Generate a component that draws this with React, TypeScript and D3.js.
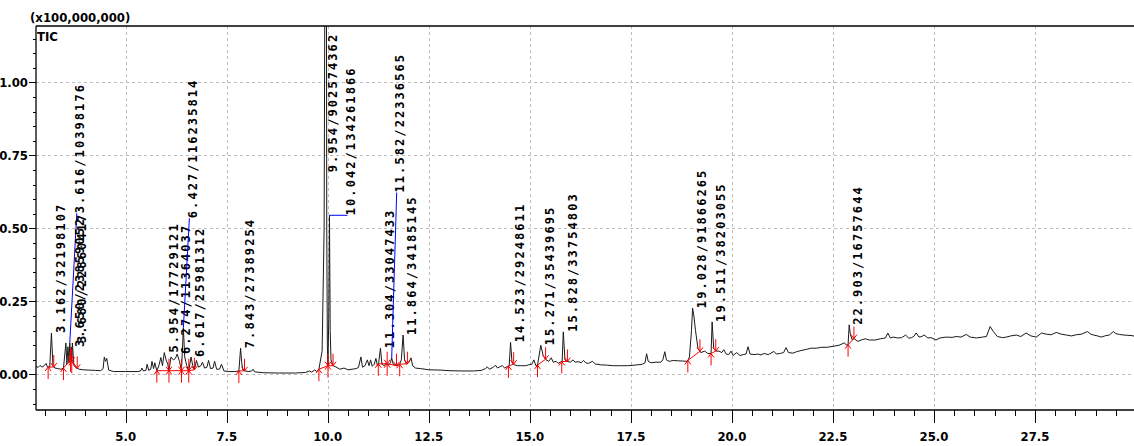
import React, { useEffect } from 'react';
import * as d3 from 'd3';

// Total ion chromatogram: [retention time (min), intensity (x100,000,000)]
const tic: [number, number][] = [
  [2.78, 0.028], [2.83, 0.024], [2.88, 0.031], [2.93, 0.025], [2.98, 0.03], [3.03, 0.038], [3.06, 0.026],
  [3.12, 0.025], [3.162, 0.142], [3.2, 0.028], [3.25, 0.022], [3.32, 0.02], [3.4, 0.018], [3.46, 0.022],
  [3.52, 0.108], [3.545, 0.035], [3.57, 0.095], [3.595, 0.04], [3.616, 0.108], [3.635, 0.05], [3.65, 0.094],
  [3.665, 0.045], [3.68, 0.108], [3.72, 0.03], [3.78, 0.022], [3.85, 0.018], [3.95, 0.016], [4.1, 0.015],
  [4.25, 0.014], [4.38, 0.013], [4.44, 0.02], [4.47, 0.06], [4.5, 0.045], [4.53, 0.055], [4.58, 0.015],
  [4.7, 0.01], [5.0, 0.01], [5.3, 0.01], [5.37, 0.012], [5.4, 0.022], [5.44, 0.012], [5.5, 0.014],
  [5.53, 0.035], [5.57, 0.014], [5.62, 0.018], [5.65, 0.045], [5.69, 0.02], [5.72, 0.04], [5.77, 0.013],
  [5.82, 0.03], [5.87, 0.058], [5.91, 0.03], [5.954, 0.075], [6.0, 0.05], [6.04, 0.035], [6.07, 0.013],
  [6.12, 0.06], [6.18, 0.05], [6.23, 0.055], [6.274, 0.07], [6.33, 0.045], [6.38, 0.013], [6.427, 0.16],
  [6.46, 0.06], [6.51, 0.03], [6.56, 0.013], [6.617, 0.06], [6.66, 0.03], [6.7, 0.016], [6.75, 0.048],
  [6.8, 0.025], [6.86, 0.03], [6.9, 0.042], [6.95, 0.022], [7.01, 0.025], [7.05, 0.048], [7.1, 0.02],
  [7.16, 0.022], [7.2, 0.045], [7.25, 0.018], [7.32, 0.018], [7.37, 0.035], [7.43, 0.012], [7.55, 0.01],
  [7.7, 0.01], [7.8, 0.012], [7.843, 0.09], [7.87, 0.04], [7.9, 0.015], [7.95, 0.012], [8.05, 0.01],
  [8.12, 0.012], [8.15, 0.018], [8.19, 0.009], [8.4, 0.006], [8.8, 0.005], [9.2, 0.005], [9.45, 0.007],
  [9.55, 0.012], [9.6, 0.008], [9.68, 0.016], [9.72, 0.01], [9.78, 0.018], [9.86, 0.08], [9.91, 0.5],
  [9.954, 2.6], [9.975, 0.5], [9.99, 0.1], [10.005, 0.03], [10.025, 0.2], [10.042, 0.545], [10.06, 0.15],
  [10.08, 0.05], [10.13, 0.03], [10.2, 0.026], [10.3, 0.018], [10.4, 0.022], [10.5, 0.016], [10.6, 0.018],
  [10.7, 0.02], [10.76, 0.024], [10.82, 0.06], [10.86, 0.025], [10.92, 0.03], [10.98, 0.05], [11.02, 0.03],
  [11.06, 0.05], [11.1, 0.028], [11.15, 0.035], [11.19, 0.055], [11.23, 0.03], [11.26, 0.04], [11.304, 0.09],
  [11.34, 0.035], [11.4, 0.03], [11.45, 0.04], [11.5, 0.032], [11.55, 0.04], [11.582, 0.057], [11.62, 0.035],
  [11.7, 0.03], [11.78, 0.035], [11.82, 0.05], [11.864, 0.135], [11.9, 0.05], [11.95, 0.035], [12.0, 0.04],
  [12.06, 0.057], [12.1, 0.03], [12.17, 0.022], [12.3, 0.02], [12.5, 0.016], [12.8, 0.015], [13.0, 0.013],
  [13.3, 0.012], [13.6, 0.012], [13.8, 0.014], [13.9, 0.02], [13.95, 0.026], [14.0, 0.018], [14.1, 0.025],
  [14.15, 0.032], [14.2, 0.022], [14.28, 0.028], [14.32, 0.03], [14.38, 0.022], [14.45, 0.028], [14.49, 0.03],
  [14.523, 0.11], [14.56, 0.04], [14.62, 0.033], [14.7, 0.03], [14.8, 0.03], [14.9, 0.03], [14.97, 0.033],
  [15.05, 0.035], [15.1, 0.05], [15.15, 0.03], [15.19, 0.032], [15.271, 0.1], [15.33, 0.065], [15.4, 0.05],
  [15.47, 0.045], [15.53, 0.057], [15.58, 0.042], [15.65, 0.045], [15.7, 0.038], [15.76, 0.043], [15.8, 0.045],
  [15.828, 0.146], [15.87, 0.05], [15.92, 0.045], [16.0, 0.042], [16.07, 0.05], [16.12, 0.042], [16.2, 0.044],
  [16.27, 0.04], [16.33, 0.048], [16.38, 0.04], [16.45, 0.038], [16.55, 0.045], [16.62, 0.036], [16.75, 0.033],
  [16.9, 0.032], [17.07, 0.03], [17.25, 0.03], [17.42, 0.03], [17.6, 0.032], [17.78, 0.035], [17.85, 0.04],
  [17.89, 0.071], [17.93, 0.045], [18.0, 0.04], [18.1, 0.042], [18.24, 0.042], [18.29, 0.05], [18.34, 0.078],
  [18.38, 0.05], [18.45, 0.045], [18.55, 0.048], [18.65, 0.047], [18.78, 0.046], [18.9, 0.045], [18.95, 0.06],
  [19.0, 0.15], [19.028, 0.227], [19.06, 0.2], [19.1, 0.15], [19.16, 0.09], [19.23, 0.075], [19.33, 0.08],
  [19.4, 0.072], [19.485, 0.072], [19.511, 0.18], [19.55, 0.09], [19.6, 0.08], [19.68, 0.08], [19.75, 0.075],
  [19.8, 0.085], [19.86, 0.07], [19.92, 0.068], [19.98, 0.08], [20.03, 0.065], [20.12, 0.075], [20.2, 0.065],
  [20.28, 0.068], [20.35, 0.07], [20.4, 0.095], [20.45, 0.07], [20.55, 0.068], [20.65, 0.07], [20.72, 0.067],
  [20.8, 0.072], [20.9, 0.068], [21.04, 0.079], [21.1, 0.07], [21.2, 0.072], [21.28, 0.075], [21.34, 0.092],
  [21.4, 0.075], [21.51, 0.073], [21.6, 0.078], [21.71, 0.082], [21.85, 0.086], [21.96, 0.09], [22.1, 0.09],
  [22.2, 0.093], [22.35, 0.093], [22.53, 0.097], [22.65, 0.1], [22.78, 0.108], [22.85, 0.1], [22.875, 0.102],
  [22.903, 0.17], [22.93, 0.14], [22.97, 0.12], [23.02, 0.123], [23.12, 0.113], [23.2, 0.118], [23.3, 0.122],
  [23.4, 0.118], [23.55, 0.118], [23.67, 0.122], [23.8, 0.125], [23.86, 0.142], [23.92, 0.125], [23.99, 0.128],
  [24.1, 0.125], [24.2, 0.126], [24.3, 0.135], [24.38, 0.124], [24.44, 0.126], [24.5, 0.13], [24.56, 0.142],
  [24.63, 0.128], [24.7, 0.13], [24.76, 0.135], [24.85, 0.125], [24.93, 0.126], [25.05, 0.118], [25.15, 0.125],
  [25.3, 0.128], [25.45, 0.127], [25.55, 0.13], [25.67, 0.128], [25.8, 0.137], [25.9, 0.128], [26.05, 0.125],
  [26.2, 0.128], [26.3, 0.13], [26.39, 0.164], [26.47, 0.147], [26.57, 0.13], [26.7, 0.126], [26.79, 0.128],
  [26.9, 0.132], [27.04, 0.135], [27.15, 0.13], [27.28, 0.142], [27.4, 0.132], [27.53, 0.128], [27.6, 0.135],
  [27.66, 0.142], [27.78, 0.138], [27.9, 0.136], [28.03, 0.144], [28.15, 0.138], [28.28, 0.135], [28.4, 0.132],
  [28.52, 0.136], [28.65, 0.138], [28.8, 0.147], [28.88, 0.138], [28.95, 0.135], [29.05, 0.132], [29.14, 0.128],
  [29.25, 0.133], [29.34, 0.135], [29.44, 0.147], [29.5, 0.14], [29.59, 0.137], [29.7, 0.135], [29.8, 0.134],
  [29.9, 0.133], [30.0, 0.13],
];

// Integrated peaks: retention time, area, integration start and end (min)
const peakTimes = [3.162, 3.616, 3.65, 3.68, 5.954, 6.274, 6.427, 6.617, 7.843, 9.954, 10.042, 11.304, 11.582, 11.864, 14.523, 15.271, 15.828, 19.028, 19.511, 22.903];
const peakAreas = [32198107, 10398176, 23859052, 22860417, 17729121, 11364037, 116235814, 25981312, 27389254, 902574362, 134261866, 33047433, 22336565, 34185145, 29248611, 35439695, 33754803, 91866265, 38203055, 16757644];
const peakStarts = [3.08, 3.46, 3.635, 3.665, 5.77, 6.07, 6.38, 6.56, 7.8, 9.78, 10.005, 11.25, 11.47, 11.78, 14.47, 15.19, 15.79, 18.91, 19.485, 22.875];
const peakEnds = [3.22, 3.635, 3.665, 3.8, 6.07, 6.38, 6.56, 6.7, 7.94, 10.005, 10.13, 11.47, 11.7, 11.97, 14.6, 15.39, 15.93, 19.21, 19.6, 23.02];

const xMajorTicks = [5.0, 7.5, 10.0, 12.5, 15.0, 17.5, 20.0, 22.5, 25.0, 27.5];
const yMajorTicks = [0.0, 0.25, 0.5, 0.75, 1.0];

const W = 1134;
const H = 446;
const plot = { left: 36, top: 26, right: 1134, bottom: 410 };

const labelFont = "'Liberation Sans Narrow', 'Arial Narrow', 'DejaVu Sans Condensed', sans-serif";
const peakFont = "'DejaVu Sans Mono', monospace";

export default function App() {
  useEffect(() => {
    document.body.style.margin = '0';
  }, []);

  const x = d3.scaleLinear().domain([2.78, 30.0]).range([plot.left, 1136]);
  const y = d3.scaleLinear().domain([-0.1216, 1.193]).range([plot.bottom, plot.top]);

  const bis = d3.bisector((d: [number, number]) => d[0]).left;
  const signalAt = (t: number) => {
    const i = bis(tic, t);
    if (i <= 0) return tic[0][1];
    if (i >= tic.length) return tic[tic.length - 1][1];
    const a = tic[i - 1];
    const b = tic[i];
    return a[1] + ((b[1] - a[1]) * (t - a[0])) / (b[0] - a[0]);
  };

  const line = d3
    .line<[number, number]>()
    .x((d) => x(d[0]))
    .y((d) => y(d[1]));

  const xMinor = d3.range(3.0, 30.0, 0.5).filter((v) => Math.abs(v / 2.5 - Math.round(v / 2.5)) > 1e-6);
  const yMinor = d3.range(-0.1, 1.19, 0.05).filter((v) => Math.abs(v / 0.25 - Math.round(v / 0.25)) > 1e-6);

  // Labels moved up to avoid overlaps: label base (intensity) and horizontal offset (px)
  const lifted: Record<number, { base: number; dx: number; leader: boolean }> = {
    1: { base: 0.552, dx: 10, leader: true },
    6: { base: 0.535, dx: 9, leader: true },
    9: { base: 0.692, dx: 7, leader: false },
    10: { base: 0.545, dx: 21, leader: true },
    12: { base: 0.623, dx: 8, leader: true },
  };

  const capHalf = 4.3;

  return (
    <svg width={W} height={H} style={{ position: 'absolute', left: 0, top: 0, background: '#fff' }}>
      <defs>
        <clipPath id="plotClip">
          <rect x={plot.left} y={plot.top} width={plot.right - plot.left} height={plot.bottom - plot.top} />
        </clipPath>
      </defs>

      {/* grid */}
      <g stroke="#bdbdbd" strokeWidth={1} strokeDasharray="3,3">
        {xMajorTicks.map((t) => (
          <line key={'gx' + t} x1={Math.round(x(t)) + 0.5} x2={Math.round(x(t)) + 0.5} y1={plot.top} y2={plot.bottom} />
        ))}
        {yMajorTicks.map((v) => (
          <line key={'gy' + v} x1={plot.left} x2={plot.right} y1={Math.round(y(v)) + 0.5} y2={Math.round(y(v)) + 0.5} />
        ))}
      </g>

      {/* chromatogram trace */}
      <path d={line(tic) || ''} fill="none" stroke="#1a1a1a" strokeWidth={1} clipPath="url(#plotClip)" />

      {/* integration baselines and start/end markers */}
      <g stroke="#ff0000" strokeWidth={1} fill="none" clipPath="url(#plotClip)">
        {peakTimes.map((t, i) => {
          const xs = x(peakStarts[i]);
          const ys = y(signalAt(peakStarts[i]));
          const xe = x(peakEnds[i]);
          const ye = y(signalAt(peakEnds[i]));
          return (
            <g key={'pk' + i}>
              <line x1={xs} y1={ys} x2={xe} y2={ye} />
              <path d={`M${xs},${ys + 12}V${ys}M${xs - 3},${ys + 4}L${xs},${ys}L${xs + 3},${ys + 4}`} />
              <path d={`M${xe},${ye - 12}V${ye}M${xe - 3},${ye - 4}L${xe},${ye}L${xe + 3},${ye - 4}`} />
            </g>
          );
        })}
      </g>

      {/* peak labels: retention time / area */}
      <g>
        {peakTimes.map((t, i) => {
          const apex = signalAt(t);
          const lift = lifted[i];
          const base = lift ? lift.base : apex;
          const cx = x(t) + (lift ? lift.dx : 9);
          const by = y(base);
          const ax = cx + capHalf;
          return (
            <g key={'lb' + i}>
              {lift && lift.leader && (
                <line x1={x(t)} y1={y(Math.min(apex, base))} x2={cx - 3} y2={by} stroke="#0000ff" strokeWidth={1} />
              )}
              <text
                transform={`translate(${ax},${by}) rotate(-90)`}
                fontFamily={peakFont}
                fontSize={12}
                fontWeight="bold"
                letterSpacing={2.08}
                fill="#000"
              >
                {`${t.toFixed(3)}/${peakAreas[i]}`}
              </text>
            </g>
          );
        })}
      </g>

      {/* axes */}
      <g stroke="#000" strokeWidth={1.3}>
        <line x1={plot.left} x2={plot.left} y1={plot.top} y2={plot.bottom} />
        <line x1={plot.left} x2={plot.right} y1={plot.bottom} y2={plot.bottom} />
        <line x1={plot.left} x2={plot.right} y1={plot.top} y2={plot.top} />
      </g>
      <g stroke="#000" strokeWidth={1}>
        {xMinor.map((t) => (
          <line key={'xm' + t} x1={Math.round(x(t)) + 0.5} x2={Math.round(x(t)) + 0.5} y1={plot.bottom} y2={plot.bottom + 6} />
        ))}
        {xMajorTicks.map((t) => (
          <line key={'xM' + t} x1={Math.round(x(t)) + 0.5} x2={Math.round(x(t)) + 0.5} y1={plot.bottom} y2={plot.bottom + 13} />
        ))}
        {yMinor.map((v) => (
          <line key={'ym' + v} x1={plot.left - 3} x2={plot.left} y1={Math.round(y(v)) + 0.5} y2={Math.round(y(v)) + 0.5} />
        ))}
        {yMajorTicks.map((v) => (
          <line key={'yM' + v} x1={plot.left - 7} x2={plot.left} y1={Math.round(y(v)) + 0.5} y2={Math.round(y(v)) + 0.5} />
        ))}
      </g>

      <g fontFamily={labelFont} fontSize={13} fontWeight="bold" fill="#000">
        {xMajorTicks.map((t) => (
          <text key={'xl' + t} x={x(t)} y={441} textAnchor="middle">
            {d3.format('.1f')(t)}
          </text>
        ))}
        {yMajorTicks.map((v) => (
          <text key={'yl' + v} x={28} y={y(v) + 4.5} textAnchor="end">
            {d3.format('.2f')(v)}
          </text>
        ))}
        <text x={30} y={22}>(x100,000,000)</text>
        <text x={37} y={41}>TIC</text>
      </g>
    </svg>
  );
}
